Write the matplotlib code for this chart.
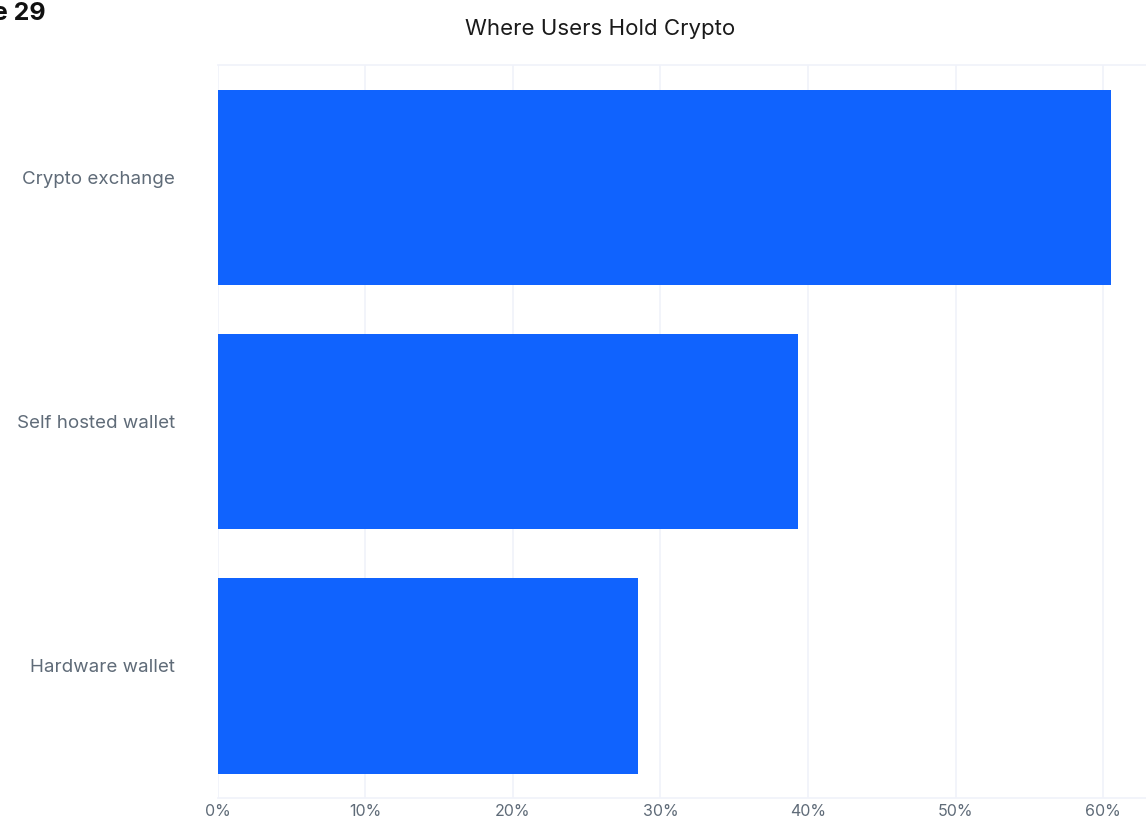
import matplotlib as mpl
import matplotlib.pyplot as plt
import matplotlib.transforms as mtransforms
import numpy as np

mpl.rcParams["font.family"] = "Inter"

categories = ["Crypto exchange", "Self hosted wallet", "Hardware wallet"]
shares = [60.5, 39.3, 28.5]
xticks = [0, 10, 20, 30, 40, 50, 60]

bar_color = "#1063fe"
grid_color = "#f0f2fa"
label_color = "#5f6b78"

fig = plt.figure(figsize=(11.46, 8.18), dpi=100)
ax = fig.add_axes([0.19, 0.0244, 0.81, 0.896])

y = np.arange(len(categories))
ax.barh(y, shares, height=0.8, color=bar_color, zorder=2)

ax.set_ylim(2.5, -0.5)
ax.set_xlim(0, 62.9)
ax.set_yticks(y, categories)
ax.set_xticks(xticks, [f"{t}%" for t in xticks])
ax.tick_params(axis="y", length=0, pad=31, labelsize=13.5, labelcolor=label_color)
ax.tick_params(axis="x", length=0, pad=4, labelsize=11.5, labelcolor=label_color)
ax.grid(axis="x", color=grid_color, linewidth=1.2, zorder=0)

# category labels sit a little above the bar centres in the original
shift = mtransforms.ScaledTranslation(0, 10 / 100, fig.dpi_scale_trans)
for lbl in ax.get_yticklabels():
    lbl.set_transform(lbl.get_transform() + shift)

for side in ["left", "right"]:
    ax.spines[side].set_visible(False)
for side in ["top", "bottom"]:
    ax.spines[side].set_color(grid_color)
    ax.spines[side].set_linewidth(1.2)

fig.text(0.524, 0.965, "Where Users Hold Crypto", ha="center", va="center",
         fontsize=16, color="#1a1a1a")
# the original crop cuts this heading off at the left edge
fig.text(0.04, 0.985, "Figure 29", ha="right", va="center",
         fontsize=18, fontweight="bold", color="#111111")

plt.savefig("out.png", dpi=100)
